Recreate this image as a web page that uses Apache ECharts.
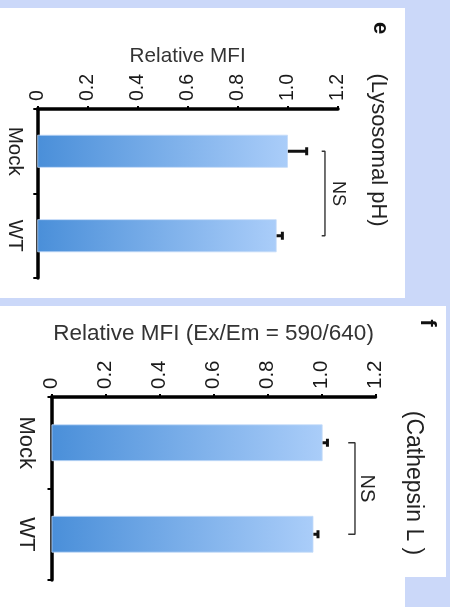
<!DOCTYPE html>
<html>
<head>
<meta charset="utf-8">
<script src="https://cdn.jsdelivr.net/npm/echarts@6/dist/echarts.min.js"></script>
<style>
html,body{margin:0;padding:0;width:450px;height:607px;overflow:hidden;background:#cbd8f9;}
.panel{position:absolute;background:#ffffff;}
#chart{position:absolute;left:0;top:0;width:450px;height:607px;}
</style>
</head>
<body>
<div class="panel" style="left:0;top:8px;width:405px;height:290px;"></div>
<div class="panel" style="left:0;top:306px;width:446px;height:271px;"></div>
<div class="panel" style="left:0;top:577px;width:405px;height:30px;"></div>
<div id="chart"></div>
<script>
// ---- data ----
const categories = ['Mock', 'WT'];
const phMeans = [1.0, 0.955];
const phErrors = [0.075, 0.023];
const cathMeans = [1.004, 0.97];
const cathErrors = [0.018, 0.017];
const valueMin = 0, valueMax = 1.2, valueStep = 0.2;
const phBracket = [1.135, 1.148];
const cathBracket = [1.099, 1.124];
const phNsPos = 1.2;
const cathNsPos = 1.168;

const FONT = "'Liberation Sans', Arial, Helvetica, sans-serif";

function tickFmt(v) { return v === 0 ? '0' : v.toFixed(1); }

function valueAxis(gridIndex, name, fs, nameFs, nameGap) {
  return {
    type: 'value', gridIndex: gridIndex, position: 'top',
    min: valueMin, max: valueMax, interval: valueStep,
    name: name, nameLocation: 'middle', nameGap: nameGap,
    nameTextStyle: { fontFamily: FONT, fontSize: nameFs, color: '#333' },
    axisLine: { show: true, lineStyle: { color: '#000', width: 3.5 } },
    axisTick: { show: true, length: 3, lineStyle: { color: '#000', width: 2 } },
    axisLabel: { rotate: -90, fontFamily: FONT, fontSize: fs, color: '#1a1a1a', margin: 8, formatter: tickFmt },
    splitLine: { show: false }
  };
}
function catAxis(gridIndex, fs, margin) {
  return {
    type: 'category', gridIndex: gridIndex, data: categories, inverse: true, position: 'left',
    axisLine: { show: true, lineStyle: { color: '#000', width: 3.5 } },
    axisTick: { show: true, length: 4, lineStyle: { color: '#000', width: 2 } },
    axisLabel: { rotate: -90, fontFamily: FONT, fontSize: fs, color: '#222', margin: margin }
  };
}
const barGrad = new echarts.graphic.LinearGradient(0, 0, 1, 0, [
  { offset: 0, color: '#4a8fd9' },
  { offset: 1, color: '#aacdf9' }
]);

function errSeries(axisIdx, means, errs, capHalf) {
  return {
    type: 'custom', xAxisIndex: axisIdx, yAxisIndex: axisIdx, z: 5,
    data: means.map((m, i) => [m, errs[i], i]),
    encode: { x: 0, y: 2 },
    renderItem: function (params, api) {
      const v = api.value(0), e = api.value(1), c = api.value(2);
      const p0 = api.coord([v, c]);
      const p1 = api.coord([v + e, c]);
      return {
        type: 'group', children: [
          { type: 'line', shape: { x1: p0[0], y1: p0[1], x2: p1[0], y2: p1[1] }, style: { stroke: '#111', lineWidth: 3 } },
          { type: 'line', shape: { x1: p1[0], y1: p1[1] - capHalf, x2: p1[0], y2: p1[1] + capHalf }, style: { stroke: '#111', lineWidth: 3 } }
        ]
      };
    }
  };
}
function bracketSeries(axisIdx, br) {
  return {
    type: 'line', xAxisIndex: axisIdx, yAxisIndex: axisIdx, symbol: 'none', silent: true,
    lineStyle: { color: '#333', width: 1.4 },
    data: [[br[0], 0], [br[1], 0], [br[1], 1], [br[0], 1]]
  };
}
function nsSeries(axisIdx, x, fs) {
  return {
    type: 'custom', xAxisIndex: axisIdx, yAxisIndex: axisIdx, silent: true, z: 6,
    data: [[x, 0, 1]],
    encode: { x: 0, y: 1 },
    renderItem: function (params, api) {
      const a = api.coord([api.value(0), api.value(1)]);
      const b = api.coord([api.value(0), api.value(2)]);
      return {
        type: 'text', x: a[0], y: (a[1] + b[1]) / 2, rotation: -Math.PI / 2,
        style: { text: 'NS', fontFamily: FONT, fontSize: fs, fill: '#222', textAlign: 'center', textVerticalAlign: 'middle' }
      };
    }
  };
}

const chart = echarts.init(document.getElementById('chart'), null, { renderer: 'canvas' });
chart.setOption({
  backgroundColor: 'transparent',
  animation: false,
  grid: [
    { left: 37.3, top: 109, width: 300.7, height: 169 },
    { left: 51.5, top: 397, width: 324, height: 183 }
  ],
  xAxis: [
    valueAxis(0, 'Relative MFI', 19.5, 20.7, 42),
    valueAxis(1, 'Relative MFI (Ex/Em = 590/640)', 20.5, 22.5, 52)
  ],
  yAxis: [catAxis(0, 20.5, 12), catAxis(1, 22, 14)],
  graphic: [
    { type: 'text', x: 378, y: 150, rotation: -Math.PI / 2, style: { text: '(Lysosomal pH)', fontFamily: FONT, fontSize: 22, fill: '#222', textAlign: 'center', textVerticalAlign: 'middle' } },
    { type: 'text', x: 380, y: 28, rotation: -Math.PI / 2, style: { text: 'e', fontFamily: FONT, fontSize: 22, fontWeight: 'bold', fill: '#111', textAlign: 'center', textVerticalAlign: 'middle' } },
    { type: 'text', x: 413, y: 483, rotation: -Math.PI / 2, style: { text: '(Cathepsin L )', fontFamily: FONT, fontSize: 23, fill: '#222', textAlign: 'center', textVerticalAlign: 'middle' } },
    { type: 'text', x: 427, y: 323, rotation: -Math.PI / 2, style: { text: 'f', fontFamily: FONT, fontSize: 22, fontWeight: 'bold', fill: '#111', textAlign: 'center', textVerticalAlign: 'middle' } }
  ],
  series: [
    { type: 'bar', xAxisIndex: 0, yAxisIndex: 0, data: phMeans, barWidth: 33, itemStyle: { color: barGrad, borderColor: '#c4dbf9', borderWidth: 0.8 } },
    errSeries(0, phMeans, phErrors, 4),
    bracketSeries(0, phBracket),
    nsSeries(0, phNsPos, 18),
    { type: 'bar', xAxisIndex: 1, yAxisIndex: 1, data: cathMeans, barWidth: 36.7, itemStyle: { color: barGrad, borderColor: '#c4dbf9', borderWidth: 0.8 } },
    errSeries(1, cathMeans, cathErrors, 4),
    bracketSeries(1, cathBracket),
    nsSeries(1, cathNsPos, 20)
  ]
});
</script>
</body>
</html>
